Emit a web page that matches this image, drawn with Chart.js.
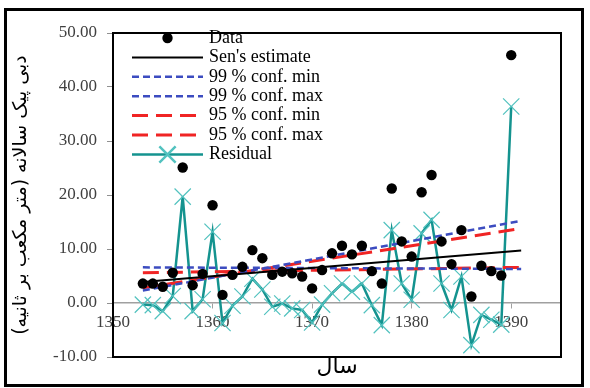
<!DOCTYPE html>
<html>
<head>
<meta charset="utf-8">
<script src="https://cdn.jsdelivr.net/npm/chart.js"></script>
<style>
  body { margin: 0; background: #fff; }
</style>
</head>
<body>
<canvas id="chartSen" width="590" height="388"></canvas>
<script>
// annual peak discharge, years 1353-1390
const years = [1353, 1354, 1355, 1356, 1357, 1358, 1359, 1360, 1361, 1362,
  1363, 1364, 1365, 1366, 1367, 1368, 1369, 1370, 1371, 1372,
  1373, 1374, 1375, 1376, 1377, 1378, 1379, 1380, 1381, 1382,
  1383, 1384, 1385, 1386, 1387, 1388, 1389, 1390];
const peakFlow = [3.6, 3.6, 3.0, 5.6, 25.1, 3.3, 5.4, 18.1, 1.5, 5.2,
  6.7, 9.8, 8.3, 5.2, 5.8, 5.5, 4.9, 2.7, 6.1, 9.2,
  10.6, 9.0, 10.6, 5.9, 3.6, 21.2, 11.4, 8.6, 20.5, 23.7,
  11.4, 7.2, 13.5, 1.2, 6.9, 5.9, 5.1, 45.9];
const residual = [-0.3, -0.4, -1.5, 1.3, 19.7, -1.5, 0.7, 13.2, -3.7, -0.5,
  1.2, 4.5, 2.5, -0.7, -0.1, -1.0, -1.3, -3.6, -0.3, 1.8,
  3.6, 2.1, 3.6, -0.4, -4.1, 13.5, 3.6, 0.6, 12.9, 15.4,
  3.6, -1.3, 4.9, -7.8, -2.2, -3.1, -4.0, 36.4];

// trend lines (start / end)
const lineYears = [1353, 1391];
const senEst = [3.9, 9.7];
const conf99Min = [6.6, 6.3];
const conf99Max = [2.3, 15.2];
const conf95Min = [5.6, 6.6];
const conf95Max = [2.8, 13.8];

const xTicks = [1350, 1360, 1370, 1380, 1390];
const yTicks = [-10, 0, 10, 20, 30, 40, 50];

const pts = (xs, ys) => xs.map((x, i) => ({x: x, y: ys[i]}));

const serif = '"Liberation Serif", "Times New Roman", serif';

// white page + frames
const frames = {
  id: 'frames',
  beforeDraw(chart) {
    const ctx = chart.ctx;
    ctx.save();
    ctx.fillStyle = '#fff';
    ctx.fillRect(0, 0, chart.width, chart.height);
    ctx.restore();
  },
  afterDraw(chart) {
    const {ctx, chartArea} = chart;
    ctx.save();
    ctx.strokeStyle = '#000';
    ctx.lineWidth = 2;
    ctx.strokeRect(chartArea.left, chartArea.top, chartArea.right - chartArea.left, chartArea.bottom - chartArea.top);
    ctx.lineWidth = 3;
    ctx.strokeRect(5.5, 9.5, 577, 376);
    ctx.restore();
  }
};

// legend drawn inside the plot like the original
const legendBox = {
  id: 'legendBox',
  afterDatasetsDraw(chart) {
    const {ctx, chartArea} = chart;
    const x0 = chartArea.left + 19, x1 = chartArea.left + 90, tx = chartArea.left + 96;
    let y = chartArea.top + 5;
    ctx.save();
    ctx.font = '18px ' + serif;
    ctx.textBaseline = 'middle';
    chart.data.datasets.forEach(ds => {
      if (ds.showLine) {
        ctx.setLineDash(ds.borderDash || []);
        ctx.strokeStyle = ds.borderColor;
        ctx.lineWidth = ds.borderWidth;
        ctx.beginPath();
        ctx.moveTo(x0, y);
        ctx.lineTo(x1, y);
        ctx.stroke();
        ctx.setLineDash([]);
      }
      if (ds.pointRadius > 0) {
        ctx.fillStyle = ds.pointBackgroundColor;
        ctx.strokeStyle = ds.pointBorderColor;
        Chart.helpers.drawPoint(ctx, {
          pointStyle: ds.pointStyle, radius: ds.pointRadius,
          borderWidth: ds.pointBorderWidth, rotation: 0
        }, (x0 + x1) / 2, y);
      }
      ctx.fillStyle = '#000';
      ctx.fillText(ds.label, tx, y);
      y += 19.4;
    });
    ctx.restore();
  }
};

new Chart(document.getElementById('chartSen'), {
  type: 'scatter',
  data: {
    datasets: [
      {
        label: 'Data',
        data: pts(years, peakFlow),
        showLine: false,
        pointStyle: 'circle',
        pointRadius: 5.2,
        pointBorderWidth: 0,
        pointBackgroundColor: '#000',
        pointBorderColor: '#000'
      },
      {
        label: "Sen's estimate",
        data: pts(lineYears, senEst),
        showLine: true,
        borderColor: '#000',
        borderWidth: 2,
        pointRadius: 0
      },
      {
        label: '99 % conf. min',
        data: pts(lineYears, conf99Min),
        showLine: true,
        borderColor: '#3c4cc0',
        borderWidth: 2.5,
        borderDash: [7, 4],
        pointRadius: 0
      },
      {
        label: '99 % conf. max',
        data: pts(lineYears, conf99Max),
        showLine: true,
        borderColor: '#3c4cc0',
        borderWidth: 2.5,
        borderDash: [7, 4],
        pointRadius: 0
      },
      {
        label: '95 % conf. min',
        data: pts(lineYears, conf95Min),
        showLine: true,
        borderColor: '#f02424',
        borderWidth: 3,
        borderDash: [16, 8],
        pointRadius: 0
      },
      {
        label: '95 % conf. max',
        data: pts(lineYears, conf95Max),
        showLine: true,
        borderColor: '#f02424',
        borderWidth: 3,
        borderDash: [16, 8],
        pointRadius: 0
      },
      {
        label: 'Residual',
        data: pts(years, residual),
        showLine: true,
        borderColor: '#14938f',
        borderWidth: 2.5,
        pointStyle: 'crossRot',
        pointRadius: 11.5,
        pointBorderWidth: 1.2,
        pointBorderColor: '#52c2bf',
        pointBackgroundColor: 'transparent'
      }
    ]
  },
  options: {
    responsive: false,
    animation: false,
    devicePixelRatio: 1,
    layout: { padding: { left: 7, top: 33, right: 29, bottom: 2 } },
    plugins: {
      legend: { display: false },
      tooltip: { enabled: false },
      title: {
        display: true,
        position: 'bottom',
        fullSize: false,
        text: 'سال',
        color: '#000',
        font: { family: 'DejaVu Sans', size: 22, weight: 'normal', lineHeight: 0.9 },
        padding: { top: 0, bottom: 9.2 }
      }
    },
    scales: {
      x: {
        type: 'linear',
        min: 1350,
        max: 1395,
        position: { y: 0 },
        afterBuildTicks: s => { s.ticks = xTicks.map(v => ({value: v})); },
        ticks: {
          color: '#404040',
          font: { family: serif, size: 17 },
          padding: 4,
          maxRotation: 0,
          callback: v => String(v)
        },
        grid: { drawOnChartArea: false, drawTicks: true, tickLength: 5, color: '#a0a0a0' },
        border: { display: true, color: '#a0a0a0', width: 1.5 }
      },
      y: {
        min: -10,
        max: 50,
        afterBuildTicks: s => { s.ticks = yTicks.map(v => ({value: v})); },
        afterFit: s => { s.width = 106; },
        ticks: {
          color: '#404040',
          font: { family: serif, size: 17 },
          padding: 10,
          callback: v => v.toFixed(2)
        },
        grid: { drawOnChartArea: false, drawTicks: true, tickLength: 6, color: '#909090' },
        border: { display: true, color: '#000', width: 2 },
        title: {
          display: true,
          text: 'دبی پیک سالانه (متر مکعب بر ثانیه)\u200F',
          color: '#000',
          font: { family: 'DejaVu Sans', size: 19 },
          padding: { top: 3, bottom: 0 }
        }
      }
    }
  },
  plugins: [frames, legendBox]
});
</script>
</body>
</html>
